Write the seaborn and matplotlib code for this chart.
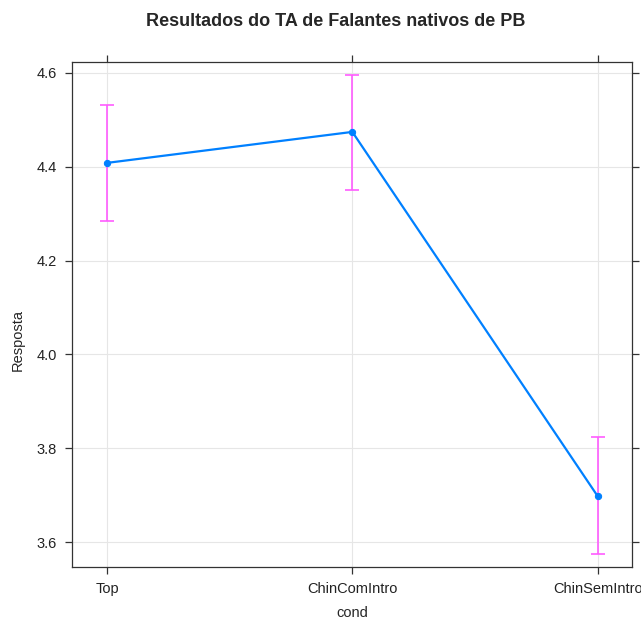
import pandas as pd
import numpy as np
import matplotlib
matplotlib.use("Agg")
import matplotlib.pyplot as plt
import seaborn as sns

# --- Data (effect estimates with confidence limits) ---
conds = ["Top", "ChinComIntro", "ChinSemIntro"]
fit = [4.408, 4.474, 3.698]
lower = [4.285, 4.351, 3.574]
upper = [4.532, 4.596, 3.823]
y_ticks = [3.6, 3.8, 4.0, 4.2, 4.4, 4.6]

df = pd.DataFrame({"cond": conds, "fit": fit, "lower": lower, "upper": upper})
df["pos"] = np.arange(len(df))

sns.set_style("white")
plt.rcParams["font.family"] = ["Liberation Sans", "DejaVu Sans"]

fig = plt.figure(figsize=(6.41, 6.21), dpi=100)
ax = fig.add_axes([0.1123, 0.087, 0.8736, 0.8132])

# grid lines at categories and y ticks
for p in df["pos"]:
    ax.axvline(p, color="#e6e6e6", lw=0.8, zorder=0)
for t in y_ticks:
    ax.axhline(t, color="#e6e6e6", lw=0.8, zorder=0)

# confidence bars
ax.errorbar(df["pos"], df["fit"],
            yerr=[df["fit"] - df["lower"], df["upper"] - df["fit"]],
            fmt="none", ecolor="#ff5cff", elinewidth=1.2, capsize=5,
            capthick=1.2, zorder=2)

# effect line
sns.lineplot(data=df, x="pos", y="fit", ax=ax, color="#0080ff", lw=1.6,
             marker="o", markersize=4.5, markeredgecolor="#0080ff",
             markerfacecolor="#0080ff", zorder=3)

ax.set_xlim(-0.143, 2.14)
ax.set_ylim(3.547, 4.623)
ax.set_xticks(df["pos"])
ax.set_xticklabels(conds)
ax.set_yticks(y_ticks)
ax.set_yticklabels([f"{t:.1f}" for t in y_ticks])
ax.set_xlabel("")
ax.set_ylabel("")

ax.tick_params(axis="both", direction="out", length=5, width=0.9,
               color="#333333", labelsize=10.5, labelcolor="#222222",
               top=True, right=True, labeltop=False, labelright=False,
               bottom=True, left=True, pad=6)
for s in ax.spines.values():
    s.set_visible(True)
    s.set_color("#333333")
    s.set_linewidth(0.9)

fig.text(0.524, 0.966, "Resultados do TA de Falantes nativos de PB",
         ha="center", va="center", fontsize=13, fontweight="bold")
fig.text(0.549, 0.013, "cond", ha="center", va="center", fontsize=10.5)
fig.text(0.028, 0.452, "Resposta", ha="center", va="center",
         rotation=90, fontsize=10.5)

fig.savefig("out.png", dpi=100)
